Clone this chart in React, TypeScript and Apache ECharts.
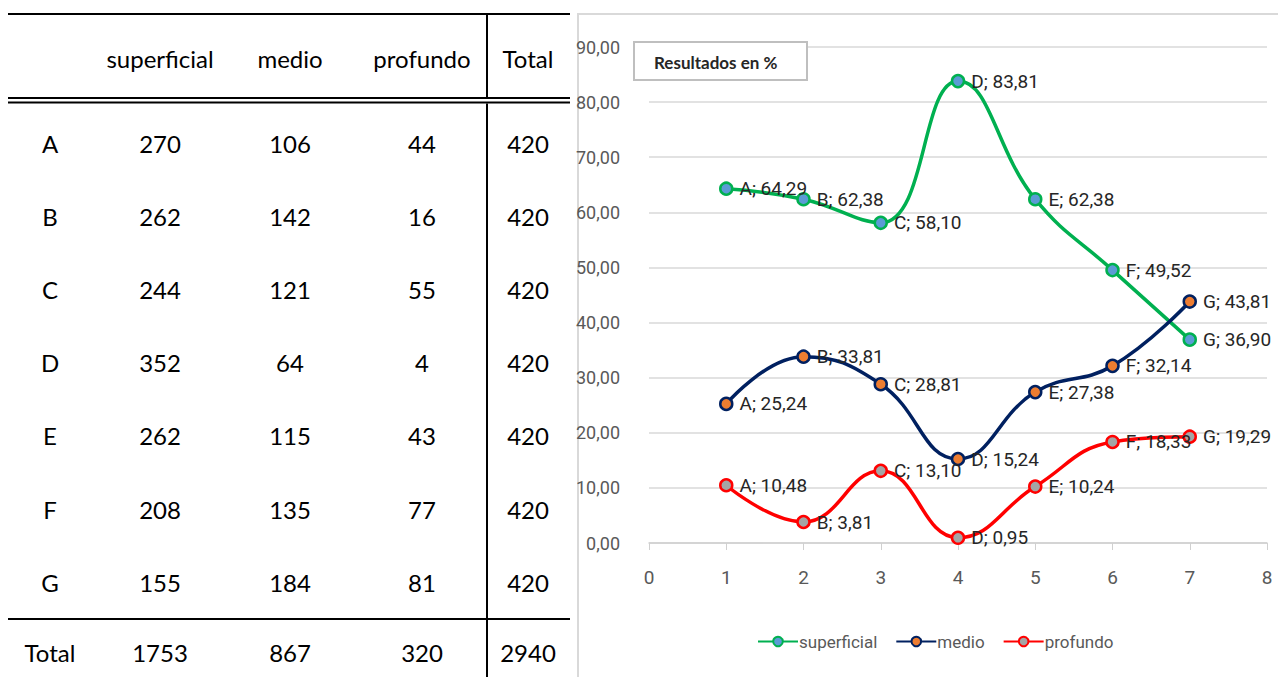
import React, { useEffect, useRef } from "react";
import * as echarts from "echarts";

// ---- Table data ----
const tableColumns = ["superficial", "medio", "profundo", "Total"];
const rowLabels = ["A", "B", "C", "D", "E", "F", "G"];
const superficialCounts = [270, 262, 244, 352, 262, 208, 155];
const medioCounts = [106, 142, 121, 64, 115, 135, 184];
const profundoCounts = [44, 16, 55, 4, 43, 77, 81];
const rowTotals = [420, 420, 420, 420, 420, 420, 420];
const columnTotals = [1753, 867, 320, 2940];

// ---- Chart data (percent) ----
const xPositions = [1, 2, 3, 4, 5, 6, 7];
const superficialPct = [64.29, 62.38, 58.1, 83.81, 62.38, 49.52, 36.9];
const medioPct = [25.24, 33.81, 28.81, 15.24, 27.38, 32.14, 43.81];
const profundoPct = [10.48, 3.81, 13.1, 0.95, 10.24, 18.33, 19.29];

const chartTitle = "Resultados en %";

const W = 1278;
const H = 677;

const tableFont = "Lato, 'Open Sans', sans-serif";
const chartFont = "Roboto, 'Noto Sans', sans-serif";

export default function App() {
  const ref = useRef<HTMLDivElement>(null);

  useEffect(() => {
    if (!ref.current) return;
    const chart = echarts.init(ref.current, undefined, { renderer: "svg" });

    const colX = [50, 160, 290, 422, 528];
    const headerY = 58;
    const rowY0 = 143;
    const rowStep = 73.2;
    const totalY = 652;

    const textEl = (x: number, y: number, t: string | number) => ({
      type: "text",
      x,
      y,
      style: {
        text: String(t),
        fill: "#000",
        font: `24px ${tableFont}`,
        align: "center",
        verticalAlign: "middle",
      },
    });

    const tableEls: any[] = [];
    tableColumns.forEach((c, i) => tableEls.push(textEl(colX[i + 1], headerY, c)));
    rowLabels.forEach((r, i) => {
      const y = rowY0 + i * rowStep;
      tableEls.push(textEl(colX[0], y, r));
      tableEls.push(textEl(colX[1], y, superficialCounts[i]));
      tableEls.push(textEl(colX[2], y, medioCounts[i]));
      tableEls.push(textEl(colX[3], y, profundoCounts[i]));
      tableEls.push(textEl(colX[4], y, rowTotals[i]));
    });
    tableEls.push(textEl(colX[0], totalY, "Total"));
    columnTotals.forEach((v, i) => tableEls.push(textEl(colX[i + 1], totalY, v)));

    const hLine = (y: number) => ({
      type: "line",
      shape: { x1: 8, y1: y, x2: 570, y2: y },
      style: { stroke: "#000", lineWidth: 2 },
    });
    const vLine = (x: number, y1: number, y2: number) => ({
      type: "line",
      shape: { x1: x, y1, x2: x, y2 },
      style: { stroke: "#000", lineWidth: 2 },
    });
    tableEls.push(hLine(14), hLine(98), hLine(102.5), hLine(619));
    tableEls.push(vLine(487, 14, 97), vLine(487, 103.5, 677));

    const fmt = (v: number) => v.toFixed(2).replace(".", ",");

    const mkSeries = (
      name: string,
      values: number[],
      lineColor: string,
      fillColor: string
    ) => ({
      name,
      type: "line",
      smooth: 0.45,
      data: xPositions.map((x, i) => [x, values[i], rowLabels[i]]),
      symbol: "circle",
      symbolSize: 12,
      lineStyle: { color: lineColor, width: 3.5 },
      itemStyle: { color: fillColor, borderColor: lineColor, borderWidth: 2.5 },
      label: {
        show: true,
        position: "right",
        distance: 6,
        color: "#262626",
        fontSize: 19,
        fontFamily: chartFont,
        formatter: (p: any) => `${p.data[2]}; ${fmt(p.data[1])}`,
      },
      z: 3,
    });

    chart.setOption({
      animation: false,
      backgroundColor: "#fff",
      grid: { left: 649, right: 11, top: 47, bottom: 134, containLabel: false },
      xAxis: {
        type: "value",
        min: 0,
        max: 8,
        interval: 1,
        axisLine: { show: true, lineStyle: { color: "#d0d0d0", width: 1.5 } },
        axisTick: { show: true, length: 7, lineStyle: { color: "#d0d0d0" } },
        axisLabel: {
          color: "#595959",
          fontSize: 19,
          fontFamily: chartFont,
          margin: 25,
        },
        splitLine: { show: false },
      },
      yAxis: {
        type: "value",
        min: 0,
        max: 90,
        interval: 10,
        axisLine: { show: false },
        axisTick: { show: false },
        axisLabel: {
          color: "#595959",
          fontSize: 18,
          fontFamily: chartFont,
          margin: 29,
          formatter: (v: number) => fmt(v),
        },
        splitLine: { show: true, lineStyle: { color: "#d9d9d9", width: 1.5 } },
      },
      legend: {
        data: ["superficial", "medio", "profundo"],
        bottom: 22,
        left: 752,
        itemWidth: 40,
        itemHeight: 12,
        itemGap: 18,
        textStyle: { color: "#595959", fontSize: 17, fontFamily: chartFont, padding: [0, 0, 0, -4] },
      },
      series: [
        mkSeries("superficial", superficialPct, "#00b050", "#5b9bd5"),
        mkSeries("medio", medioPct, "#002060", "#ed7d31"),
        mkSeries("profundo", profundoPct, "#ff0000", "#a5a5a5"),
      ],
      graphic: [
        {
          type: "rect",
          shape: { x: 578, y: 14, width: 720, height: 700 },
          style: { fill: "none", stroke: "#d9d9d9", lineWidth: 2 },
          z: 0,
          silent: true,
        },
        ...tableEls,
        {
          type: "rect",
          shape: { x: 634, y: 42, width: 173, height: 38 },
          style: { fill: "#fff", stroke: "#bfbfbf", lineWidth: 2 },
          z: 10,
        },
        {
          type: "text",
          x: 654,
          y: 62,
          z: 11,
          style: {
            text: chartTitle,
            fill: "#262626",
            fontSize: 17,
            fontWeight: "bold",
            fontFamily: tableFont,
            verticalAlign: "middle",
          },
        },
      ],
    });

    return () => chart.dispose();
  }, []);

  return (
    <div
      ref={ref}
      style={{ position: "fixed", left: 0, top: 0, width: W, height: H }}
    />
  );
}
